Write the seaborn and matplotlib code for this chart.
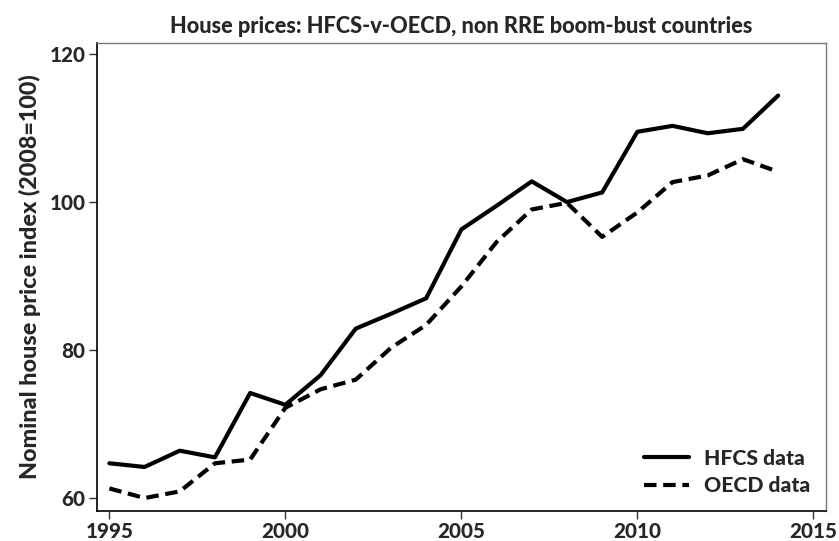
import matplotlib
matplotlib.use("Agg")
import matplotlib.pyplot as plt
from matplotlib import font_manager as fm
import seaborn as sns
import pandas as pd

years = list(range(1995, 2015))
hfcs = [64.7, 64.2, 66.4, 65.5, 74.2, 72.6, 76.6, 82.9, 84.9, 87.0,
        96.3, 99.5, 102.8, 100.0, 101.3, 109.5, 110.3, 109.3, 109.9, 114.4]
oecd = [61.3, 60.0, 60.9, 64.7, 65.2, 72.2, 74.7, 76.0, 80.3, 83.4,
        88.6, 94.6, 99.0, 99.9, 95.3, 98.6, 102.7, 103.6, 105.8, 104.1]
series_names = ["HFCS data", "OECD data"]
title = "House prices: HFCS-v-OECD, non RRE boom-bust countries"
ylabel = "Nominal house price index (2008=100)"
xticks = [1995, 2000, 2005, 2010, 2015]
yticks = [60, 80, 100, 120]

df = pd.DataFrame({
    "year": years * 2,
    "value": hfcs + oecd,
    "series": [series_names[0]] * len(years) + [series_names[1]] * len(years),
})

sns.set_style("white")
plt.rcParams["font.family"] = ["Lato", "DejaVu Sans"]

bold_path = None
files = {f.fname.split("/")[-1]: f.fname for f in fm.fontManager.ttflist}
for cand in ["Lato-Heavy.ttf", "Lato-ExtraBold.ttf", "Lato-Black.ttf", "Lato-Bold.ttf"]:
    if cand in files:
        bold_path = files[cand]
        break

def fp(size):
    if bold_path:
        return fm.FontProperties(fname=bold_path, size=size)
    return fm.FontProperties(family="DejaVu Sans", weight="bold", size=size)

fig = plt.figure(figsize=(8.39, 5.41), dpi=100)
ax = fig.add_axes([96.7 / 839, 1 - 511 / 541, (826 - 96.7) / 839, (511 - 43) / 541])

sns.lineplot(data=df, x="year", y="value", hue="series", style="series",
             palette=["black", "black"],
             dashes={series_names[0]: "", series_names[1]: (3, 1.6)},
             linewidth=3, ax=ax)

ax.set_xlim(1994.64, 2015.36)
ax.set_ylim(58.25, 121.5)
ax.set_xticks(xticks)
ax.set_yticks(yticks)
ax.tick_params(axis="both", which="both", direction="out", length=6, width=1,
               color="#333333", pad=2, bottom=True, left=True)
for lab in ax.get_xticklabels() + ax.get_yticklabels():
    lab.set_fontproperties(fp(14.8))
ax.set_xlabel("")
ax.set_ylabel(ylabel, fontproperties=fp(16.8), labelpad=6)
ax.set_title(title, fontproperties=fp(15.7), pad=7)

for s in ["left", "bottom"]:
    ax.spines[s].set_color("black")
    ax.spines[s].set_linewidth(1.2)
for s in ["top", "right"]:
    ax.spines[s].set_color("#777777")
    ax.spines[s].set_linewidth(1.0)

leg = ax.legend(loc="lower right", frameon=False, prop=fp(15.2),
                handlelength=2.1, handletextpad=0.72, labelspacing=0.4,
                borderaxespad=0.35)

fig.savefig("out.png", dpi=100)
